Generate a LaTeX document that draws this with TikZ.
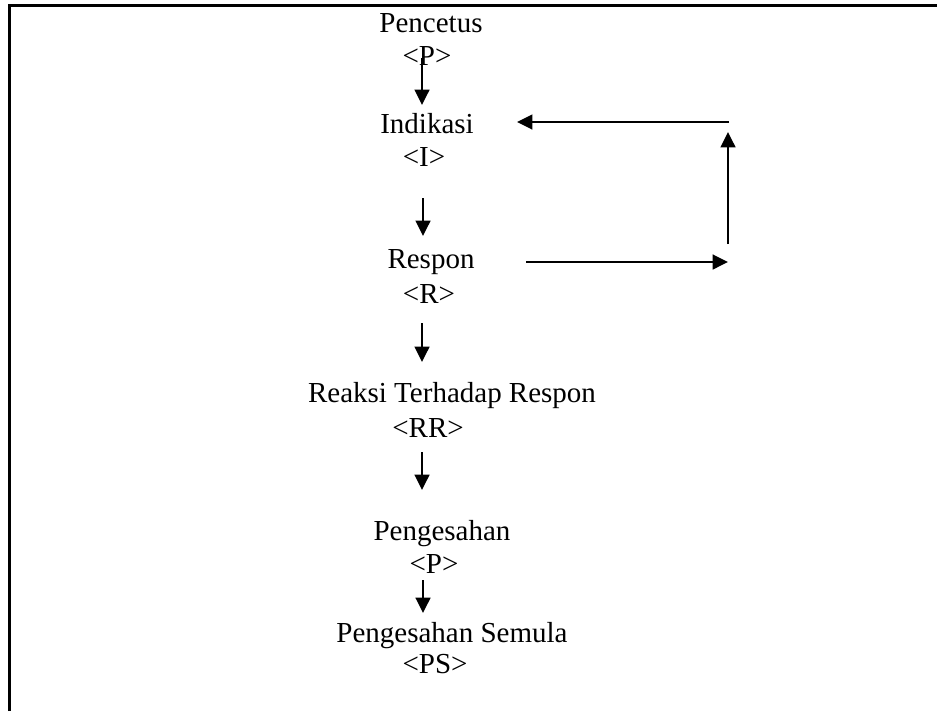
\documentclass[tikz,border=0pt]{standalone}
\usepackage{fontspec}
\setmainfont{Liberation Serif}
\usetikzlibrary{arrows.meta,calc}
\tikzset{
  lbl/.style={anchor=base,inner sep=0pt,font=\fontsize{21.75pt}{26pt}\selectfont},
  arr/.style={line width=1.8pt,-{Triangle[length=11.5pt,width=11pt]}},
  frame/.style={line width=2pt}
}
\begin{document}
\begin{tikzpicture}[x=0.75pt,y=0.75pt]
\useasboundingbox (0,0) rectangle (937,-711);
\draw[frame] (9.5,-711) -- (9.5,-5.5) -- (937,-5.5);
\coordinate (col) at (422,0);
\node[lbl] (pc)  at (431,-32)  {Pencetus};
\node[lbl] (pcc) at (427,-65)  {\textless P\textgreater};
\node[lbl] (ind) at (427,-133) {Indikasi};
\node[lbl] (indc) at (424,-166) {\textless I\textgreater};
\node[lbl] (res) at (431,-268) {Respon};
\node[lbl] (resc) at (429,-303) {\textless R\textgreater};
\node[lbl] (rr)  at (452,-402) {Reaksi Terhadap Respon};
\node[lbl] (rrc) at (428,-437) {\textless RR\textgreater};
\node[lbl] (pg)  at (442,-540) {Pengesahan};
\node[lbl] (pgc) at (434,-573) {\textless P\textgreater};
\node[lbl] (ps)  at (452,-642) {Pengesahan Semula};
\node[lbl] (psc) at (435,-673) {\textless PS\textgreater};
\coordinate (loopB) at (728,-262);
\coordinate (loopT) at (729,-122);
\draw[arr] ($(pcc.base -| col)+(0,7)$) -- ($(ind.base -| col)+(0,28)$);
\draw[arr] ($(indc.base -| col)+(1,-32)$) -- ($(res.base -| col)+(1,32)$);
\draw[arr] ($(resc.base -| col)+(0,-20)$) -- ($(rr.base -| col)+(0,40)$);
\draw[arr] ($(rrc.base -| col)+(0,-15)$) -- ($(pg.base -| col)+(0,50)$);
\draw[arr] ($(pgc.base -| col)+(1,-7)$) -- ($(ps.base -| col)+(1,29)$);
\draw[arr] ($(res.base)+(95,6)$) -- (loopB);
\draw[arr] ($(loopB)+(0,18)$) -- ($(loopT)+(-1,-10)$);
\draw[arr] (loopT) -- ($(ind.base)+(90,11)$);
\end{tikzpicture}
\end{document}
